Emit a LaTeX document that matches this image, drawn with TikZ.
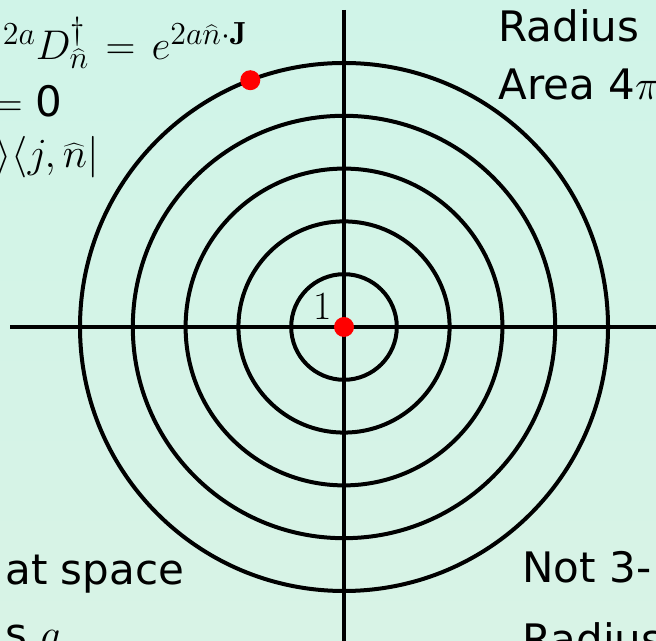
\RequirePackage{fix-cm}
\documentclass[tikz,border=0pt]{standalone}
\usepackage{fontspec}
\setsansfont{DejaVu Sans}
\usetikzlibrary{positioning}
\DeclareMathSizes{20.74}{20.74}{16}{12}
\definecolor{mintTop}{HTML}{D0F4E8}
\definecolor{mintBot}{HTML}{D8F3E6}
\definecolor{dotred}{HTML}{FF0000}
\tikzset{ring/.style={draw=black,line width=2pt},axis/.style={draw=black,line width=2pt},dot/.style={circle,fill=dotred,inner sep=0pt,minimum size=10pt},txt/.style={font=\sffamily\fontsize{21}{25}\selectfont,inner sep=0pt},eqn/.style={font=\sffamily\fontsize{20.74}{25}\selectfont,inner sep=0pt},num/.style={font=\fontsize{20}{24}\selectfont,inner sep=0pt}}

\begin{document}
\begin{tikzpicture}[x=0.5pt,y=0.5pt]
\useasboundingbox (0,0) rectangle (656,640);
\shade[top color=mintTop,bottom color=mintBot] (0,0) rectangle (656,640);
\clip (0,0) rectangle (656,640);
\coordinate (origin) at (344,313);
\coordinate (ytop) at (344,630); \coordinate (ybot) at (344,-10);
\coordinate (xleft) at (10,313); \coordinate (xright) at (666,313);
% rings
\foreach \r in {52.8,105.6,158.4,211.2,264} \draw[ring] (origin) circle (\r);
\draw[axis] (ytop)--(ybot); \draw[axis] (xleft)--(xright);
\node[num] (one) at (322.5,334) {1};
\node[dot] (centre) at (origin) {};
\node[dot] (rim) at ([shift={(110.8:264)}]origin) {};
% texts round the edges
\node[eqn,anchor=base east] (disp) at (248,580) {$^{2a}D^{\dagger}_{\widehat{n}}\mkern2mu=\mkern2mu e^{2a\widehat{n}\cdot\mathbf{J}}$};
\node[eqn,anchor=base east] (zero) at (63,523) {$=$ {\fontsize{21}{25}\selectfont 0}};
\node[eqn,anchor=base east] (proj) at (99,472) {$\rangle\langle j,\widehat{n}|$};
\node[txt,anchor=base west] (radius) at (498,598) {Radius};
\node[txt,anchor=base west] (area) at (498,540) {Area 4$\pi$};
\node[txt,anchor=base west] (flat) at (5,55) {at space};
\node[txt,anchor=base west] (isa) at (5,-9) {s $a$};
\node[txt,anchor=base west] (notthree) at (522,57) {Not 3-};
\node[txt,anchor=base west] (radiustwo) at (522,-14) {Radius};
\end{tikzpicture}
\end{document}
